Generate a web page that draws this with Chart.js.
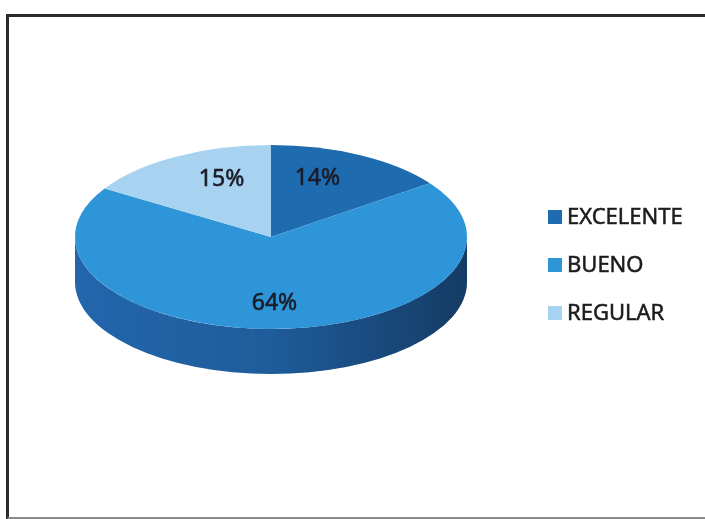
<!DOCTYPE html>
<html>
<head>
<meta charset="utf-8">
<title>Valoración</title>
<script src="https://cdn.jsdelivr.net/npm/chart.js@4.4.1/dist/chart.umd.min.js"></script>
<style>
  html, body { margin: 0; padding: 0; background: #ffffff; }
  #wrap { width: 705px; height: 519px; position: relative; }
</style>
</head>
<body>
<div id="wrap"><canvas id="c" width="705" height="519"></canvas></div>
<script>
// Categories and their percentages
const categories = ['EXCELENTE', 'BUENO', 'REGULAR'];
const percentValues = [14, 64, 15];

// Colours: top face of each slice, and its side wall
const topColors  = ['#1F6BB0', '#2E96D8', '#A8D3F0'];
const sideColors = ['#17518C', '#2266AC', '#7FA9CF'];

const TILT = 0.469;   // vertical squash that turns the disc into an ellipse
const DEPTH = 45;     // height of the pie's side wall, px
const FONT = '"Noto Sans", "Open Sans", sans-serif';

function tiltAbout(ctx, cx, cy) {
  ctx.translate(cx, cy);
  ctx.scale(1, TILT);
  ctx.translate(-cx, -cy);
}

// Clip an arc's angular range to the front half (0..PI in canvas angles)
function frontRanges(s, e) {
  const out = [];
  for (const base of [-2 * Math.PI, 0, 2 * Math.PI]) {
    const a0 = Math.max(s, base), a1 = Math.min(e, base + Math.PI);
    if (a1 > a0) out.push([a0, a1]);
  }
  return out;
}

// Filled text with a thin outline in the same colour, for a slightly heavier stroke
function heavyText(ctx, text, x, y) {
  ctx.fillText(text, x, y);
  ctx.strokeText(text, x, y);
}

const pie3d = {
  id: 'pie3d',
  beforeDatasetsDraw(chart) {
    const ctx = chart.ctx;
    const arcs = chart.getDatasetMeta(0).data;
    const cx = arcs[0].x, cy = arcs[0].y, r = arcs[0].outerRadius;
    const off = DEPTH / TILT;
    ctx.save();
    tiltAbout(ctx, cx, cy);
    const shade = ctx.createLinearGradient(cx - r, 0, cx + r, 0);
    shade.addColorStop(0, 'rgba(0,0,0,0)');
    shade.addColorStop(0.5, 'rgba(0,0,0,0.10)');
    shade.addColorStop(1, 'rgba(0,0,0,0.42)');
    arcs.forEach((a, i) => {
      frontRanges(a.startAngle, a.endAngle).forEach(([a0, a1]) => {
        ctx.beginPath();
        ctx.arc(a.x, a.y, a.outerRadius, a0, a1);
        ctx.arc(a.x, a.y + off, a.outerRadius, a1, a0, true);
        ctx.closePath();
        ctx.fillStyle = sideColors[i];
        ctx.fill();
        ctx.fillStyle = shade;
        ctx.fill();
      });
    });
  },
  afterDatasetsDraw(chart) {
    const ctx = chart.ctx;
    ctx.restore();
    const arcs = chart.getDatasetMeta(0).data;
    ctx.save();
    ctx.fillStyle = '#1a1d28';
    ctx.strokeStyle = '#1a1d28';
    ctx.lineWidth = 0.6;
    ctx.font = '23px ' + FONT;
    ctx.textAlign = 'center';
    ctx.textBaseline = 'middle';
    arcs.forEach((a, i) => {
      const mid = (a.startAngle + a.endAngle) / 2;
      const x = a.x + Math.cos(mid) * a.outerRadius * 0.52;
      const y = a.y + Math.sin(mid) * a.outerRadius * TILT * 0.72;
      heavyText(ctx, percentValues[i] + '%', x, y);
    });
    ctx.restore();
  },
  afterDraw(chart) {
    const ctx = chart.ctx;
    ctx.save();
    // legend
    ctx.font = '22px ' + FONT;
    ctx.textBaseline = 'middle';
    ctx.textAlign = 'left';
    ctx.lineWidth = 0.5;
    categories.forEach((name, i) => {
      const y = 217 + i * 48;
      ctx.fillStyle = topColors[i];
      ctx.fillRect(548, y - 7, 14, 14);
      ctx.fillStyle = '#1c1c1c';
      ctx.strokeStyle = '#1c1c1c';
      heavyText(ctx, name, 567, y + 1);
    });
    // frame
    ctx.strokeStyle = '#2b2b2b';
    ctx.lineWidth = 3;
    ctx.beginPath();
    ctx.moveTo(7.5, 519);
    ctx.lineTo(7.5, 15.5);
    ctx.lineTo(705, 15.5);
    ctx.stroke();
    ctx.strokeStyle = '#8a8a8a';
    ctx.lineWidth = 2;
    ctx.beginPath();
    ctx.moveTo(7.5, 518);
    ctx.lineTo(705, 518);
    ctx.stroke();
    ctx.restore();
  }
};

new Chart(document.getElementById('c'), {
  type: 'pie',
  data: {
    labels: categories,
    datasets: [{
      data: percentValues,
      backgroundColor: topColors,
      borderWidth: 0,
      clip: false
    }]
  },
  options: {
    responsive: false,
    animation: false,
    devicePixelRatio: 1,
    layout: { padding: { left: 75, right: 238, top: 41, bottom: 86 } },
    plugins: {
      legend: { display: false },
      tooltip: { enabled: false }
    },
    events: []
  },
  plugins: [pie3d]
});
</script>
</body>
</html>
